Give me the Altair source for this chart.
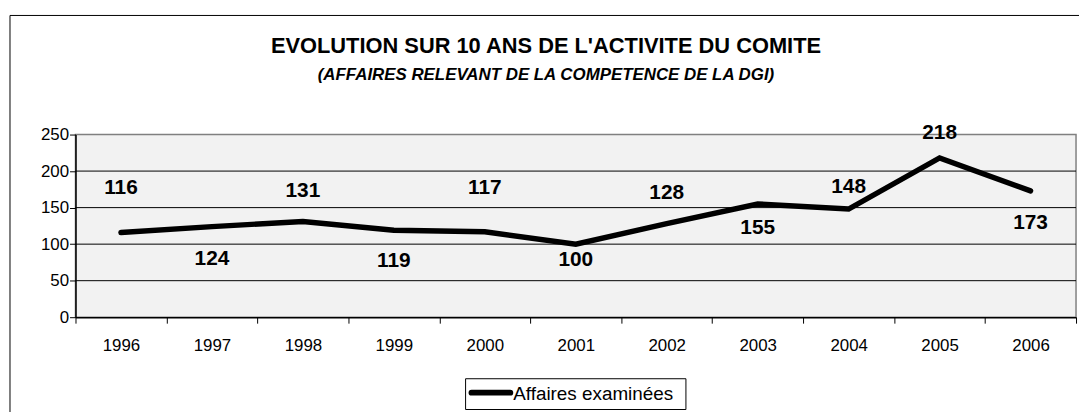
import altair as alt
import pandas as pd

years = ["1996", "1997", "1998", "1999", "2000", "2001", "2002", "2003", "2004", "2005", "2006"]
values = [116, 124, 131, 119, 117, 100, 128, 155, 148, 218, 173]
series_name = "Affaires examinées"
title_text = "EVOLUTION SUR 10 ANS DE L'ACTIVITE DU COMITE"
subtitle_text = "(AFFAIRES RELEVANT DE LA COMPETENCE DE LA DGI)"
y_ticks = [0, 50, 100, 150, 200, 250]
grid_values = [50, 100, 150, 200]
# vertical label offsets in pixels (negative = above the line)
label_dy = [-45, 33, -31, 31, -44, 16, -31, 24, -22, -25, 32]

PLOT_W, PLOT_H = 1008, 184
YMAX = 250
px_per_unit = PLOT_H / YMAX

df = pd.DataFrame({
    "year": years,
    "value": values,
    "series": [series_name] * len(years),
    "dy": label_dy,
})
df["ly"] = df["value"] + (-df["dy"]) / px_per_unit

FONT = "Liberation Sans"

y_scale = alt.Scale(domain=[0, YMAX], nice=False)
x_scale = alt.Scale(type="band", paddingInner=0, paddingOuter=0)
x_axis = alt.Axis(tickBand="extent", labelAngle=0, labelPadding=15, labelBaseline="top")
y_axis = alt.Axis(values=y_ticks, labelPadding=1)


def xenc():
    return alt.X("year:O", title=None, bandPosition=0.5, scale=x_scale, axis=x_axis)


def yenc(field):
    return alt.Y(field, title=None, scale=y_scale, axis=y_axis)


base = alt.Chart(df)

line = base.mark_line(strokeWidth=5.5, strokeCap="round", strokeJoin="miter",
                      color="black").encode(
    x=xenc(),
    y=yenc("value:Q"),
)

grid = alt.Chart(pd.DataFrame({"g": grid_values})).mark_rule(
    color="black", strokeWidth=1
).encode(y=yenc("g:Q"))

labels = base.mark_text(fontSize=21, fontWeight="bold", font=FONT, color="black",
                        baseline="middle").encode(
    x=xenc(),
    y=yenc("ly:Q"),
    text="value:Q",
)

frame = alt.Chart(pd.DataFrame({"a": [0]})).mark_rect(
    fill=None, stroke="black", strokeWidth=1
).encode(
    x=alt.value(-66), x2=alt.value(1030),
    y=alt.value(-120), y2=alt.value(400),
)

title = alt.Chart(pd.DataFrame({"t": [title_text]})).mark_text(
    font=FONT, fontSize=22, fontWeight="bold", color="black", baseline="middle"
).encode(text="t:N", x=alt.value(474), y=alt.value(-89))

subtitle = alt.Chart(pd.DataFrame({"t": [subtitle_text]})).mark_text(
    font=FONT, fontSize=17, fontWeight="bold", fontStyle="italic", color="black",
    baseline="middle"
).encode(text="t:N", x=alt.value(474), y=alt.value(-60))

# legend box (drawn manually so the swatch and box match the reference)
legend_df = pd.DataFrame({"series": [series_name]})
legend_box = alt.Chart(legend_df).mark_rect(
    fill="white", stroke="black", strokeWidth=1
).encode(x=alt.value(393), x2=alt.value(615), y=alt.value(246), y2=alt.value(277))
legend_swatch = alt.Chart(legend_df).mark_rule(
    color="black", strokeWidth=6, strokeCap="round"
).encode(x=alt.value(399), x2=alt.value(438), y=alt.value(260))
legend_label = alt.Chart(legend_df).mark_text(
    font=FONT, fontSize=19, color="black", align="left", baseline="middle"
).encode(text="series:N", x=alt.value(441), y=alt.value(261))

chart = alt.layer(
    frame, grid, line, labels, title, subtitle, legend_box, legend_swatch, legend_label
).properties(
    width=PLOT_W,
    height=PLOT_H,
    background="white",
    autosize=alt.AutoSizeParams(type="none"),
    padding={"left": 68, "top": 126, "right": 3, "bottom": 94},
).configure_view(
    fill="#f2f2f2", stroke="#808080", strokeWidth=1.5
).configure_axis(
    labelFontSize=17, labelColor="black", labelFont=FONT, tickColor="black",
    domainColor="black", tickSize=6, grid=False, labelOverlap=False,
    domainWidth=1.5, tickWidth=1,
)

chart.save("out.html", embed_options={"renderer": "svg", "actions": False})
